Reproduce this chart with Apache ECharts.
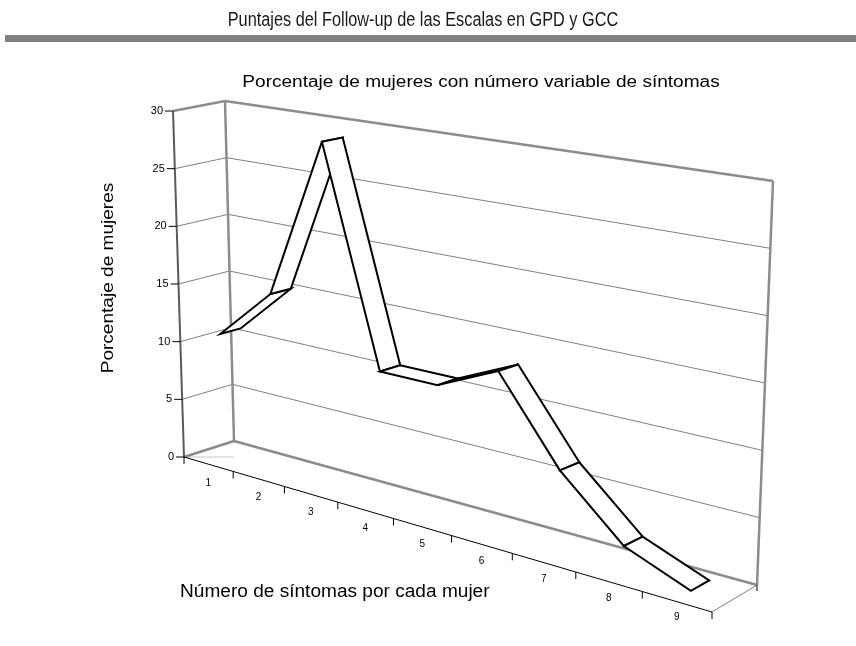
<!DOCTYPE html>
<html>
<head>
<meta charset="utf-8">
<script src="https://cdn.jsdelivr.net/npm/echarts@6/dist/echarts.min.js"></script>
<style>
  html, body { margin: 0; padding: 0; background: #fff; }
  #chart { width: 856px; height: 646px; }
</style>
</head>
<body>
<div id="chart"></div>
<script>
  const categories = ['1', '2', '3', '4', '5', '6', '7', '8', '9'];
  const percentages = [10.8, 15.2, 28.8, 10.8, 10.8, 13.0, 6.5, 2.1, 0.2];
  const valueTicks = [0, 5, 10, 15, 20, 25, 30];

  // screen corners of the 3d box, [u][w][v] -> [x, y, perspective weight]
  // u: along categories, w: depth (0 front, 1 back), v: value (0 floor, 1 top)
  const corners = [
    [[[184, 457, 1], [173, 111, 1]], [[234, 441, 1.02], [225, 101, 1.02]]],
    [[[712, 612, 0.822], [726, 191, 0.822]], [[757, 585, 0.85], [773, 181, 0.85]]]
  ];
  const ribbonDepth = [0.3, 0.7];

  function project(u, v, w) {
    let X = 0, Y = 0, S = 0;
    for (const a of [0, 1]) {
      for (const b of [0, 1]) {
        for (const c of [0, 1]) {
          const k = (a ? u : 1 - u) * (b ? w : 1 - w) * (c ? v : 1 - v);
          const p = corners[a][b][c];
          X += k * p[2] * p[0];
          Y += k * p[2] * p[1];
          S += k * p[2];
        }
      }
    }
    return [X / S, Y / S];
  }

  // data -> normalized box coords, through the hidden cartesian axes
  function toUV(api, cs, cat, val) {
    const pt = api.coord([cat, val]);
    return [(pt[0] - cs.x) / cs.width, (cs.y + cs.height - pt[1]) / cs.height];
  }

  function renderFrame(params, api) {
    const cs = params.coordSys;
    const half = api.size([1, 0])[0] / cs.width / 2;
    const children = [];
    const seg = (a, b, style) => children.push({
      type: 'line', shape: {x1: a[0], y1: a[1], x2: b[0], y2: b[1]}, style: style
    });
    const thin = {stroke: '#7f7f7f', lineWidth: 1};
    const thick = {stroke: '#8c8c8c', lineWidth: 2.5};
    const top = toUV(api, cs, 0, valueTicks[valueTicks.length - 1])[1];

    valueTicks.forEach(t => {
      const v = toUV(api, cs, 0, t)[1];
      if (t > valueTicks[0] && v < top) {
        seg(project(0, v, 1), project(1, v, 1), thin);
        seg(project(0, v, 0), project(0, v, 1), thin);
      }
    });

    // walls and floor edges
    seg(project(0, 0, 0), [project(0, 0, 1)[0], project(0, 0, 0)[1]], {stroke: '#c4c4e0', lineWidth: 1});
    seg(project(0, top, 0), project(0, top, 1), thick);
    seg(project(0, top, 1), project(1, top, 1), thick);
    seg(project(0, 0, 1), project(0, top, 1), thick);
    seg(project(1, 0, 1), project(1, top, 1), thick);
    seg(project(0, 0, 1), project(1, 0, 1), thick);
    seg(project(0, 0, 0), project(0, 0, 1), thick);
    seg(project(1, 0, 0), project(1, 0, 1), thin);
    const br = project(1, 0, 1);
    seg(br, [br[0], br[1] + 6], {stroke: '#000', lineWidth: 1});

    // value axis
    seg(project(0, 0, 0), project(0, top, 0), {stroke: '#5a5a5a', lineWidth: 2});
    valueTicks.forEach(t => {
      const p = project(0, toUV(api, cs, 0, t)[1], 0);
      seg([p[0] - 8, p[1]], p, {stroke: '#000', lineWidth: 1});
      children.push({
        type: 'text', x: p[0] - 10, y: p[1],
        style: {text: String(t), align: 'right', verticalAlign: 'middle',
          font: '11px "Liberation Sans", Arial, sans-serif', fill: '#000'}
      });
    });

    // category axis
    seg(project(0, 0, 0), project(1, 0, 0), {stroke: '#000', lineWidth: 1});
    categories.forEach((c, i) => {
      const u = toUV(api, cs, i, 0)[0];
      const edge = project(u - half, 0, 0);
      seg(edge, [edge[0], edge[1] + 7], {stroke: '#000', lineWidth: 1});
      if (i === categories.length - 1) {
        const last = project(u + half, 0, 0);
        seg(last, [last[0], last[1] + 7], {stroke: '#000', lineWidth: 1});
      }
      const p = project(u, 0, 0);
      children.push({
        type: 'text', x: p[0], y: p[1] + 19 - 3.5 * u,
        style: {text: c, align: 'center', verticalAlign: 'middle',
          font: '10px "Liberation Sans", Arial, sans-serif', fill: '#000'}
      });
    });

    return {type: 'group', children: children};
  }

  function renderRibbon(params, api) {
    const cs = params.coordSys;
    const a = toUV(api, cs, api.value(0), api.value(1));
    const b = toUV(api, cs, api.value(2), api.value(3));
    const pts = [
      project(a[0], a[1], ribbonDepth[0]),
      project(b[0], b[1], ribbonDepth[0]),
      project(b[0], b[1], ribbonDepth[1]),
      project(a[0], a[1], ribbonDepth[1])
    ];
    return {
      type: 'polygon',
      shape: {points: pts},
      style: {fill: '#fff', stroke: '#000', lineWidth: 2, lineJoin: 'miter'}
    };
  }

  const segments = percentages.slice(0, -1).map((v, i) => [i, v, i + 1, percentages[i + 1]]);

  const chart = echarts.init(document.getElementById('chart'));
  const option = {
    animation: false,
    backgroundColor: '#fff',
    graphic: [
      {
        type: 'text', x: 423, y: 21, scaleX: 0.836,
        style: {text: 'Puntajes del Follow-up de las Escalas en GPD y GCC', align: 'center',
          verticalAlign: 'middle', font: '19.5px "Liberation Sans", Arial', fill: '#1a1a1a'}
      },
      {type: 'rect', shape: {x: 5, y: 35, width: 851, height: 7}, style: {fill: '#808080'}},
      {
        type: 'text', x: 481, y: 83, scaleX: 1.19,
        style: {text: 'Porcentaje de mujeres con número variable de síntomas', align: 'center',
          verticalAlign: 'middle', font: '16px "Liberation Sans", Arial', fill: '#000'}
      },
      {
        type: 'text', x: 109, y: 278, rotation: Math.PI / 2, scaleX: 1.17,
        style: {text: 'Porcentaje de mujeres', align: 'center', verticalAlign: 'middle',
          font: '16.3px "Liberation Sans", Arial', fill: '#000'}
      },
      {
        type: 'text', x: 180, y: 592, scaleX: 1.09,
        style: {text: 'Número de síntomas por cada mujer', align: 'left', verticalAlign: 'middle',
          font: '17.5px "Liberation Sans", Arial', fill: '#000'}
      }
    ],
    grid: {left: 184, top: 111, width: 528, height: 346, show: false},
    xAxis: {type: 'category', data: categories, show: false},
    yAxis: {type: 'value', min: 0, max: 30, interval: 5, show: false},
    series: [
      {
        type: 'custom',
        name: 'frame',
        silent: true,
        z: 1,
        renderItem: renderFrame,
        data: [[0, 0]]
      },
      {
        type: 'custom',
        name: 'Porcentaje',
        silent: true,
        z: 2,
        renderItem: renderRibbon,
        encode: {x: [0, 2], y: [1, 3]},
        data: segments
      }
    ]
  };
  chart.setOption(option);
</script>
</body>
</html>
